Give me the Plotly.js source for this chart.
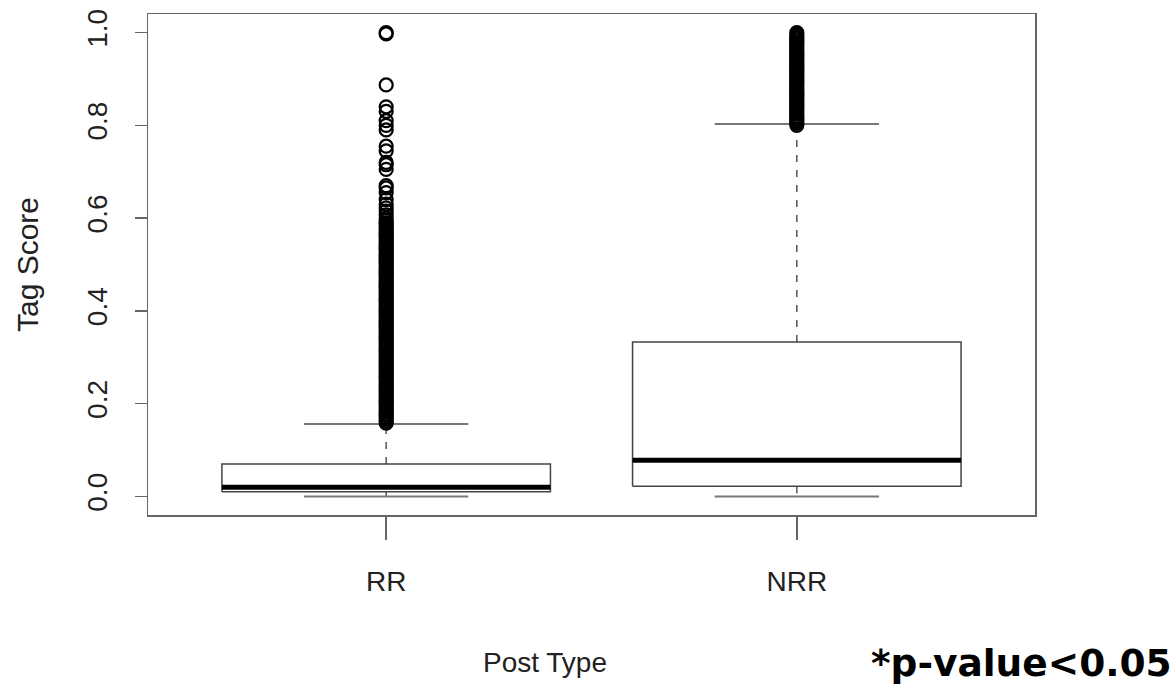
<!DOCTYPE html>
<html>
<head>
<meta charset="utf-8">
<script src="https://cdn.plot.ly/plotly-3.0.1.min.js"></script>
<style>html,body{margin:0;padding:0;background:#fff;}#chart{width:1176px;height:685px;}</style>
</head>
<body>
<div id="chart"></div>
<script>
// ---- data ----
const categories = ['RR', 'NRR'];
const lowerWhisker = [0.000, 0.000];
const q1 = [0.010, 0.022];
const median = [0.020, 0.078];
const q3 = [0.070, 0.333];
const upperWhisker = [0.156, 0.803];
const rrOutliers = [
  0.158, 0.162, 0.166, 0.170, 0.174, 0.178, 0.182, 0.186, 0.190, 0.194,
  0.198, 0.202, 0.206, 0.210, 0.214, 0.218, 0.222, 0.226, 0.230, 0.234,
  0.238, 0.242, 0.246, 0.250, 0.254, 0.258, 0.262, 0.266, 0.270, 0.274,
  0.278, 0.282, 0.286, 0.290, 0.294, 0.298, 0.302, 0.306, 0.310, 0.314,
  0.318, 0.322, 0.326, 0.330, 0.334, 0.338, 0.342, 0.346, 0.350, 0.354,
  0.358, 0.362, 0.366, 0.370, 0.374, 0.378, 0.382, 0.386, 0.390, 0.394,
  0.398, 0.402, 0.406, 0.410, 0.414, 0.418, 0.422, 0.426, 0.430, 0.434,
  0.438, 0.442, 0.446, 0.450, 0.454, 0.458, 0.462, 0.466, 0.470, 0.474,
  0.478, 0.482, 0.486, 0.490, 0.494, 0.498, 0.502, 0.506, 0.510, 0.514,
  0.518, 0.522, 0.526, 0.530, 0.534, 0.538, 0.542, 0.546, 0.550, 0.554,
  0.558, 0.562, 0.566, 0.570, 0.574, 0.578, 0.582, 0.586, 0.590, 0.595,
  0.600, 0.607, 0.615, 0.622, 0.630, 0.640, 0.655, 0.665, 0.670, 0.705,
  0.715, 0.720, 0.745, 0.755, 0.790, 0.800, 0.810, 0.830, 0.840,
  0.887, 0.997, 1.000
];
const nrrOutliers = [
  0.800, 0.804, 0.808, 0.812, 0.816, 0.820, 0.824, 0.828, 0.832, 0.836,
  0.840, 0.844, 0.848, 0.852, 0.856, 0.860, 0.864, 0.868, 0.872, 0.876,
  0.880, 0.884, 0.888, 0.892, 0.896, 0.900, 0.904, 0.908, 0.912, 0.916,
  0.920, 0.924, 0.928, 0.932, 0.936, 0.940, 0.944, 0.948, 0.952, 0.956,
  0.960, 0.964, 0.968, 0.972, 0.976, 0.980, 0.984, 0.988, 0.992, 0.996, 1.000
];
const outliers = [rrOutliers, nrrOutliers];

// ---- style ----
const boxHalf = 0.4, capHalf = 0.2;
const traces = [];
categories.forEach((c, i) => {
  const p = i + 1;
  traces.push({x: [p, p, null, p, p], y: [q3[i], upperWhisker[i], null, q1[i], lowerWhisker[i]],
    mode: 'lines', line: {color: '#555', width: 1.5, dash: '7px,8px'}, hoverinfo: 'skip', showlegend: false});
  traces.push({x: [p - capHalf, p + capHalf, null, p - capHalf, p + capHalf],
    y: [upperWhisker[i], upperWhisker[i], null, lowerWhisker[i], lowerWhisker[i]],
    mode: 'lines', line: {color: '#777', width: 2}, hoverinfo: 'skip', showlegend: false});
  traces.push({x: [p - boxHalf, p + boxHalf, p + boxHalf, p - boxHalf, p - boxHalf],
    y: [q1[i], q1[i], q3[i], q3[i], q1[i]],
    mode: 'lines', line: {color: '#444', width: 1.5}, fill: 'toself', fillcolor: 'rgba(255,255,255,1)',
    hoverinfo: 'skip', showlegend: false});
  traces.push({x: [p - boxHalf, p + boxHalf], y: [median[i], median[i]],
    mode: 'lines', line: {color: '#000', width: 5}, hoverinfo: 'skip', showlegend: false});
  traces.push({x: outliers[i].map(() => p), y: outliers[i], mode: 'markers',
    marker: {symbol: 'circle-open', size: 13, color: '#000', line: {width: 2.2, color: '#000'}},
    hoverinfo: 'y', showlegend: false});
});

const font = 'Liberation Sans, Arial, sans-serif';
const layout = {
  width: 1176, height: 685,
  margin: {l: 148, r: 141, t: 14, b: 170},
  paper_bgcolor: '#fff', plot_bgcolor: '#fff',
  showlegend: false,
  xaxis: {
    range: [0.42, 2.58], tickmode: 'array', tickvals: [1, 2], ticktext: categories,
    showgrid: false, zeroline: false, showline: true, mirror: true, linecolor: '#666', linewidth: 1.5,
    ticks: 'outside', ticklen: 23, tickwidth: 1.5, tickcolor: '#666',
    tickfont: {family: font, size: 28, color: '#222'}, ticklabelstandoff: 18
  },
  yaxis: {
    range: [-0.04, 1.04], tickmode: 'array', tickvals: [0, 0.2, 0.4, 0.6, 0.8, 1.0],
    ticktext: ['0.0', '0.2', '0.4', '0.6', '0.8', '1.0'],
    showgrid: false, zeroline: false, showline: true, mirror: true, linecolor: '#666', linewidth: 1.5,
    ticks: 'outside', ticklen: 12, tickwidth: 1.5, tickcolor: '#666', tickangle: -90,
    tickfont: {family: font, size: 28, color: '#222'}, ticklabelstandoff: 16,
    title: {text: 'Tag Score', font: {family: font, size: 30, color: '#222'}, standoff: 35}
  },
  annotations: [
    {text: 'Post Type', xref: 'paper', yref: 'paper', x: 0.4476, y: -0.295,
     xanchor: 'center', yanchor: 'middle', showarrow: false,
     font: {family: font, size: 28, color: '#222'}},
    {text: '<b>*p-value<0.05</b>', xref: 'paper', yref: 'paper', x: 1.157, y: -0.295,
     xanchor: 'right', yanchor: 'middle', showarrow: false,
     font: {family: 'DejaVu Sans, sans-serif', size: 37.5, color: '#000'}}
  ]
};
Plotly.newPlot('chart', traces, layout, {displayModeBar: false, staticPlot: true});
</script>
</body>
</html>
